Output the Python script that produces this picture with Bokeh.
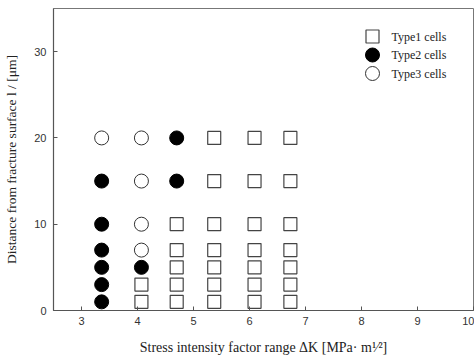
from bokeh.plotting import figure
from bokeh.models import Range1d, FixedTicker, Label
from bokeh.embed import file_html
from bokeh.resources import INLINE

# ---- data ----
type1_dk = [4.07, 4.07, 4.70, 4.70, 4.70, 4.70, 4.70,
            5.37, 5.37, 5.37, 5.37, 5.37, 5.37, 5.37,
            6.09, 6.09, 6.09, 6.09, 6.09, 6.09, 6.09,
            6.73, 6.73, 6.73, 6.73, 6.73, 6.73, 6.73]
type1_l = [1, 3, 1, 3, 5, 7, 10,
           1, 3, 5, 7, 10, 15, 20,
           1, 3, 5, 7, 10, 15, 20,
           1, 3, 5, 7, 10, 15, 20]
type2_dk = [3.36, 3.36, 3.36, 3.36, 3.36, 3.36, 4.07, 4.70, 4.70]
type2_l = [1, 3, 5, 7, 10, 15, 5, 15, 20]
type3_dk = [3.36, 4.07, 4.07, 4.07, 4.07]
type3_l = [20, 7, 10, 15, 20]
series_names = ["Type1 cells", "Type2 cells", "Type3 cells"]
x_ticks = [3, 4, 5, 6, 7, 8, 9, 10]
y_ticks = [0, 10, 20, 30]
x_title = "Stress intensity factor range ΔK [MPa· m¹⁄²]"
y_title = "Distance from fracture surface l / [μm]"

X0, X1 = 2.5, 10.0
Y0, Y1 = 0.0, 35.0
W, H = 474, 361
BL, BR, BT, BB = 53, 1, 8, 51
FW = W - BL - BR
FH = H - BT - BB

p = figure(width=W, height=H, output_backend="svg", toolbar_location=None,
           x_range=Range1d(X0, X1), y_range=Range1d(Y0, Y1),
           min_border_left=BL, min_border_right=BR, min_border_top=BT, min_border_bottom=BB)
p.grid.visible = False
p.background_fill_color = "white"
p.border_fill_color = "white"
p.outline_line_color = "#777777"
p.outline_line_width = 1

SERIF = "Liberation Serif"
for ax in (p.xaxis[0], p.yaxis[0]):
    ax.axis_line_color = "#555555"
    ax.axis_line_width = 1.2
    ax.major_tick_in = 4
    ax.major_tick_out = 0
    ax.major_tick_line_color = "#555555"
    ax.minor_tick_line_color = None
    ax.major_label_text_font = "Liberation Sans"
    ax.major_label_text_font_size = "11px"
    ax.major_label_text_color = "#333333"
    ax.axis_label_text_font = SERIF
    ax.axis_label_text_font_style = "normal"
    ax.axis_label_text_color = "#222222"
p.xaxis[0].ticker = FixedTicker(ticks=x_ticks)
p.yaxis[0].ticker = FixedTicker(ticks=y_ticks)
p.xaxis[0].major_label_standoff = 6
p.yaxis[0].major_label_standoff = 7
p.xaxis[0].axis_label = x_title
p.yaxis[0].axis_label = y_title
p.xaxis[0].axis_label_text_font_size = "14px"
p.yaxis[0].axis_label_text_font_size = "13.5px"
p.xaxis[0].axis_label_standoff = 12
p.yaxis[0].axis_label_standoff = 12

p.scatter(type1_dk, type1_l, marker="square", size=13, fill_color=None,
          line_color="#444444", line_width=1.2)
p.scatter(type2_dk, type2_l, marker="circle", size=14, fill_color="black",
          line_color="black", line_width=1)
p.scatter(type3_dk, type3_l, marker="circle", size=14, fill_color="white",
          line_color="#333333", line_width=1)

# pixel (page) -> data helpers, used only for legend key placement
def dx(px):
    return X0 + (px - BL) * (X1 - X0) / FW

def dy(py):
    return Y1 - (py - BT) * (Y1 - Y0) / FH

# legend (drawn by hand so key markers match the reference size)
leg_px = 372
leg_py = [36, 54.5, 73]
p.scatter([dx(leg_px)], [dy(leg_py[0])], marker="square", size=13, fill_color=None,
          line_color="#444444", line_width=1.2)
p.scatter([dx(leg_px)], [dy(leg_py[1])], marker="circle", size=14, fill_color="black",
          line_color="black", line_width=1)
p.scatter([dx(leg_px)], [dy(leg_py[2])], marker="circle", size=14, fill_color="white",
          line_color="#333333", line_width=1)
for name, py in zip(series_names, leg_py):
    p.add_layout(Label(x=391 - BL, y=(H - BB) - py, x_units="screen", y_units="screen",
                       text=name, text_font=SERIF, text_font_size="12px",
                       text_color="#222222", text_align="left", text_baseline="middle"))

open("out.html", "w").write(file_html(p, INLINE))
